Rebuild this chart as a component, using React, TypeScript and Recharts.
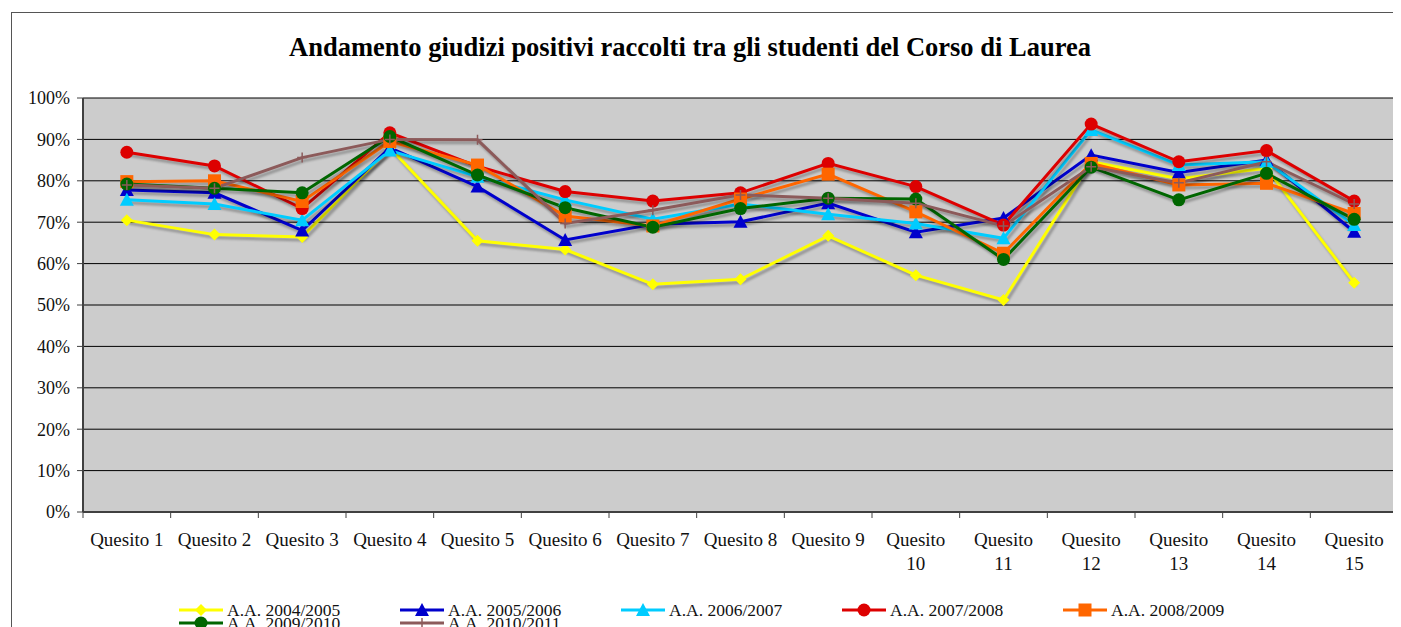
import React from "react";
import {
  LineChart,
  Line,
  XAxis,
  YAxis,
  CartesianGrid,
  Legend,
} from "recharts";

const FONT = '"Liberation Serif", "Times New Roman", serif';

const QUESITI = [
  "Quesito 1",
  "Quesito 2",
  "Quesito 3",
  "Quesito 4",
  "Quesito 5",
  "Quesito 6",
  "Quesito 7",
  "Quesito 8",
  "Quesito 9",
  "Quesito 10",
  "Quesito 11",
  "Quesito 12",
  "Quesito 13",
  "Quesito 14",
  "Quesito 15",
];

const Y_TICKS = [0, 10, 20, 30, 40, 50, 60, 70, 80, 90, 100];

const AA_0405 = [70.5, 67.0, 66.4, 88.0, 65.5, 63.4, 55.0, 56.2, 66.7, 57.2, 51.2, 84.6, 80.5, 83.0, 55.4];
const AA_0506 = [77.8, 77.1, 68.0, 88.0, 78.6, 65.7, 69.5, 70.1, 74.6, 67.6, 71.0, 86.2, 82.0, 85.0, 67.7];
const AA_0607 = [75.4, 74.4, 70.5, 87.3, 81.0, 75.4, 70.7, 74.4, 71.9, 69.7, 66.1, 92.3, 83.8, 84.6, 69.3];
const AA_0708 = [86.9, 83.6, 73.3, 91.6, 83.5, 77.4, 75.1, 77.1, 84.2, 78.6, 69.3, 93.7, 84.6, 87.3, 75.1];
const AA_0809 = [79.8, 80.0, 75.0, 89.5, 83.8, 71.5, 69.1, 75.6, 81.6, 72.5, 62.5, 84.2, 79.0, 79.4, 72.1];
const AA_0910 = [79.2, 78.2, 77.1, 90.7, 81.4, 73.5, 68.8, 73.3, 75.8, 75.6, 61.0, 83.3, 75.4, 81.8, 70.7];
const AA_1011 = [79.0, 78.2, 85.6, 90.0, 89.9, 69.7, 72.9, 76.6, 75.8, 74.6, 69.1, 83.4, 79.5, 84.6, 74.4];

type Shape = "diamond" | "triangle" | "circle" | "square" | "plus";

const SERIES: { key: string; name: string; color: string; shape: Shape; values: number[] }[] = [
  { key: "a0405", name: "A.A. 2004/2005", color: "#FFFF00", shape: "diamond", values: AA_0405 },
  { key: "a0506", name: "A.A. 2005/2006", color: "#0000CC", shape: "triangle", values: AA_0506 },
  { key: "a0607", name: "A.A. 2006/2007", color: "#00CCFF", shape: "triangle", values: AA_0607 },
  { key: "a0708", name: "A.A. 2007/2008", color: "#DD0000", shape: "circle", values: AA_0708 },
  { key: "a0809", name: "A.A. 2008/2009", color: "#FF6600", shape: "square", values: AA_0809 },
  { key: "a0910", name: "A.A. 2009/2010", color: "#006600", shape: "circle", values: AA_0910 },
  { key: "a1011", name: "A.A. 2010/2011", color: "#8C5A5A", shape: "plus", values: AA_1011 },
];

const data = QUESITI.map((q, i) => {
  const row: Record<string, string | number> = { q };
  SERIES.forEach((s) => {
    row[s.key] = s.values[i];
  });
  return row;
});

const W = 1400;
const H = 620;
const PLOT_LEFT = 71;
const PLOT_RIGHT = 1386;
const PLOT_TOP = 85;
const PLOT_BOTTOM = 499;
const BAND = (PLOT_RIGHT - PLOT_LEFT) / QUESITI.length;

function Marker({ cx, cy, shape, color }: { cx: number; cy: number; shape: Shape; color: string }) {
  if (cx == null || cy == null) return null;
  switch (shape) {
    case "diamond":
      return <polygon points={`${cx},${cy - 6} ${cx + 6},${cy} ${cx},${cy + 6} ${cx - 6},${cy}`} fill={color} />;
    case "triangle":
      return <polygon points={`${cx},${cy - 7} ${cx + 7},${cy + 6} ${cx - 7},${cy + 6}`} fill={color} />;
    case "circle":
      return <circle cx={cx} cy={cy} r={6.5} fill={color} />;
    case "square":
      return <rect x={cx - 6.5} y={cy - 6.5} width={13} height={13} fill={color} />;
    case "plus":
      return (
        <path
          d={`M${cx - 5},${cy}H${cx + 5}M${cx},${cy - 5}V${cy + 5}`}
          stroke={color}
          strokeWidth={1.5}
        />
      );
  }
  return null;
}

function XTick(props: any) {
  const { x, payload, index } = props;
  const label: string = payload.value;
  const parts = label.split(" ");
  const twoLines = index >= 9;
  return (
    <g>
      {index === 0 && (
        <line x1={x - BAND / 2} x2={x - BAND / 2} y1={PLOT_BOTTOM} y2={PLOT_BOTTOM + 6} stroke="#404040" />
      )}
      <line x1={x + BAND / 2} x2={x + BAND / 2} y1={PLOT_BOTTOM} y2={PLOT_BOTTOM + 6} stroke="#404040" />
      {twoLines ? (
        <text x={x} y={PLOT_BOTTOM + 34} textAnchor="middle" fontFamily={FONT} fontSize={19} fill="#111">
          <tspan x={x}>{parts[0]}</tspan>
          <tspan x={x} dy={24}>
            {parts[1]}
          </tspan>
        </text>
      ) : (
        <text x={x} y={PLOT_BOTTOM + 34} textAnchor="middle" fontFamily={FONT} fontSize={19} fill="#111">
          {label}
        </text>
      )}
    </g>
  );
}

function LegendBox() {
  return (
    <div style={{ position: "relative", width: W, height: 30 }}>
      {SERIES.map((s, i) => {
        const col = i % 5;
        const row = Math.floor(i / 5);
        return (
          <div
            key={s.key}
            style={{
              position: "absolute",
              left: 167 + col * 221,
              top: row * 13,
              height: 18,
              display: "flex",
              alignItems: "center",
              whiteSpace: "nowrap",
              fontFamily: FONT,
              fontSize: 17.5,
              color: "#111",
              lineHeight: "18px",
            }}
          >
            <svg width={44} height={18} style={{ marginRight: 4 }}>
              <line x1={0} x2={44} y1={9} y2={9} stroke={s.color} strokeWidth={3} />
              <Marker cx={22} cy={9} shape={s.shape} color={s.color} />
            </svg>
            <span>{s.name}</span>
          </div>
        );
      })}
    </div>
  );
}

export default function App() {
  return (
    <div
      style={{
        marginLeft: 3,
        marginTop: 4,
        border: "1px solid #555",
        width: W + 20,
        height: H + 20,
        background: "#fff",
      }}
    >
      <style>{`.recharts-line { filter: drop-shadow(2px 3px 1px rgba(0,0,0,0.28)); }`}</style>
      <LineChart
        width={W}
        height={H}
        data={data}
        margin={{ top: PLOT_TOP, right: W - PLOT_RIGHT, left: 0, bottom: H - PLOT_BOTTOM - 60 }}
      >
        <text
          x={678}
          y={43}
          textAnchor="middle"
          fontFamily={FONT}
          fontWeight="bold"
          fontSize={26.5}
          fill="#000"
        >
          Andamento giudizi positivi raccolti tra gli studenti del Corso di Laurea
        </text>
        <CartesianGrid vertical={false} fill="#CCCCCC" stroke="#000" strokeWidth={1} />
        <CartesianGrid
          horizontal={false}
          verticalPoints={[PLOT_RIGHT]}
          stroke="#808080"
          strokeWidth={1.5}
        />
        <XAxis
          dataKey="q"
          interval={0}
          height={60}
          padding={{ left: BAND / 2, right: BAND / 2 }}
          tickLine={false}
          axisLine={{ stroke: "#404040", strokeWidth: 2 }}
          tick={<XTick />}
        />
        <YAxis
          width={PLOT_LEFT}
          domain={[0, 100]}
          ticks={Y_TICKS}
          tickFormatter={(v) => `${v}%`}
          tickSize={6}
          tickMargin={7}
          axisLine={{ stroke: "#404040", strokeWidth: 2 }}
          tickLine={{ stroke: "#404040" }}
          tick={{ fontFamily: FONT, fontSize: 18, fill: "#111" }}
        />
        {SERIES.map((s) => (
          <Line
            key={s.key}
            dataKey={s.key}
            name={s.name}
            type="linear"
            stroke={s.color}
            strokeWidth={3}
            isAnimationActive={false}
            dot={(p: any) => <Marker key={`${s.key}-${p.index}`} cx={p.cx} cy={p.cy} shape={s.shape} color={s.color} />}
            activeDot={false}
          />
        ))}
        <Legend
          layout="horizontal"
          verticalAlign="middle"
          align="center"
          wrapperStyle={{ top: 588, left: 0, width: W }}
          content={() => <LegendBox />}
        />
      </LineChart>
    </div>
  );
}
